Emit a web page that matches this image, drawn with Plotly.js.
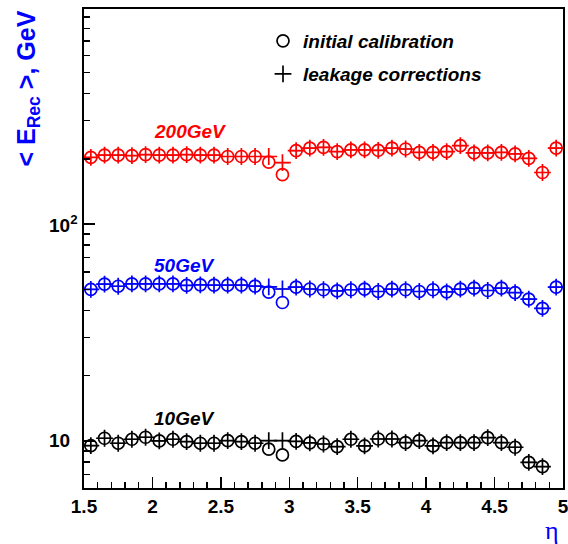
<!DOCTYPE html>
<html>
<head>
<meta charset="utf-8">
<script src="https://cdn.plot.ly/plotly-3.0.1.min.js"></script>
<style>html,body{margin:0;padding:0;background:#fff;}#chart{width:568px;height:544px;}</style>
</head>
<body>
<div id="chart"></div>
<script>
// eta bin centres
var eta = [1.55,1.65,1.75,1.85,1.95,2.05,2.15,2.25,2.35,2.45,2.55,2.65,2.75,2.85,2.95,3.05,3.15,3.25,3.35,3.45,3.55,3.65,3.75,3.85,3.95,4.05,4.15,4.25,4.35,4.45,4.55,4.65,4.75,4.85,4.95];
var eta10 = [1.55,1.65,1.75,1.85,1.95,2.05,2.15,2.25,2.35,2.45,2.55,2.65,2.75,2.85,2.95,3.05,3.15,3.25,3.35,3.45,3.55,3.65,3.75,3.85,3.95,4.05,4.15,4.25,4.35,4.45,4.55,4.65,4.75,4.85];

// 200 GeV
var init200 = [203,208,208,207,209,208,208,209,208,208,205,205,205,193,169,218,224,226,216,220,220,219,224,222,214,214,216,230,213,213,214,211,201,173,224];
var leak200 = [203,208,208,207,209,208,208,209,208,208,205,205,205,205,192,218,224,226,216,220,220,219,224,222,214,214,216,230,213,213,214,211,201,173,224];
// 50 GeV
var init50 = [50.0,52.9,51.7,53.0,53.0,53.0,53.0,52.2,52.5,52.3,52.3,52.3,51.8,48.6,43.5,51.2,50.2,49.8,49.2,49.8,50.1,48.9,50.1,49.8,48.9,49.8,48.7,50.1,50.7,49.4,50.7,48.3,45.1,40.9,51.2];
var leak50 = [50.0,52.9,51.7,53.0,53.0,53.0,53.0,52.2,52.5,52.3,52.3,52.3,51.8,51.3,50.2,51.2,50.2,49.8,49.2,49.8,50.1,48.9,50.1,49.8,48.9,49.8,48.7,50.1,50.7,49.4,50.7,48.3,45.1,40.9,51.2];
// 10 GeV
var init10 = [9.51,10.29,9.76,10.18,10.40,10.0,10.18,9.93,9.76,9.76,10.03,9.93,9.76,9.16,8.62,9.95,9.8,9.68,9.41,10.18,9.48,10.21,10.21,9.82,10.03,9.48,9.82,9.82,9.82,10.36,9.82,9.35,7.97,7.61];
var leak10 = [9.51,10.29,9.76,10.18,10.40,10.0,10.18,9.93,9.76,9.76,10.03,9.93,9.76,10.03,10.03,9.95,9.8,9.68,9.41,10.18,9.48,10.21,10.21,9.82,10.03,9.48,9.82,9.82,9.82,10.36,9.82,9.35,7.97,7.61];

var energyLabels = ["200GeV","50GeV","10GeV"];
var legendNames = ["initial calibration","leakage corrections"];
var yTickVals = [10,100];
var yTickText = ["10","10<sup>2</sup>"];
var yMinor = [7,8,9,20,30,40,50,60,70,80,90,200,300,400,500,600,700,800,900];

var FONT = "Liberation Sans, Arial, sans-serif";
var colors = ["#ff0000","#0000ff","#000000"];

function circ(x,y,c,lbl,leg){
  return {x:x,y:y,type:"scatter",mode:"markers",
    marker:{symbol:"circle-open",size:12,color:c,line:{color:c,width:1.7}},
    showlegend:!!leg,name:leg?legendNames[0]:lbl+" "+legendNames[0],legend:"legend",hoverinfo:"skip"};
}
function plus(x,y,c,lbl,leg){
  return {x:x,y:y,type:"scatter",mode:"markers",
    marker:{symbol:"cross-thin-open",size:12,color:c,line:{color:c,width:1.7}},
    error_x:{type:"constant",value:0.05,width:0,thickness:1,color:"#000000"},
    showlegend:!!leg,name:leg?legendNames[1]:lbl+" "+legendNames[1],legend:"legend2",hoverinfo:"skip"};
}

var data = [
  plus(eta,leak200,colors[0],energyLabels[0]), circ(eta,init200,colors[0],energyLabels[0]),
  plus(eta,leak50,colors[1],energyLabels[1]), circ(eta,init50,colors[1],energyLabels[1]),
  plus(eta10,leak10,colors[2],energyLabels[2],true), circ(eta10,init10,colors[2],energyLabels[2],true)
];

var W=479,H=479,L=84,T=9;
function px(xp){return (xp-L)/W;}
function py(yp){return (T+H-yp)/H;}

var ann = [];
var labY=[131.5,265.5,418.5];
for(var i=0;i<3;i++){
  ann.push({text:energyLabels[i],xref:"x",yref:"paper",x:2.0,y:py(labY[i]),xanchor:"left",yanchor:"middle",showarrow:false,
    font:{family:FONT,size:19,color:colors[i],weight:"bold",style:"italic"}});
}
for(var j=0;j<yTickVals.length;j++){
  ann.push({text:yTickText[j],xref:"paper",yref:"y",x:px(47),y:Math.log10(yTickVals[j]),xanchor:"left",yanchor:"middle",showarrow:false,
    font:{family:FONT,size:19,color:"#000",weight:"bold"}});
}
ann.push({text:"< E<sub>Rec</sub> >, GeV",xref:"paper",yref:"paper",x:px(27),y:py(88.5),textangle:-90,xanchor:"center",yanchor:"middle",showarrow:false,
  font:{family:FONT,size:25,color:"#0000ff",weight:"bold"}});
ann.push({text:"η",xref:"paper",yref:"paper",x:px(561),y:py(530),xanchor:"right",yanchor:"middle",showarrow:false,
  font:{family:"Liberation Serif, serif",size:26,color:"#0000ff"}});

var legFont = {family:FONT,size:19,color:"#000",weight:"bold",style:"italic"};
var layout = {
  width:568,height:544,
  margin:{l:L,r:568-L-W,t:T,b:544-T-H,pad:0},
  paper_bgcolor:"#fff",plot_bgcolor:"#fff",
  font:{family:FONT,color:"#000"},
  xaxis:{range:[1.5,5],tickmode:"linear",tick0:1.5,dtick:0.5,ticks:"inside",ticklen:11,tickwidth:1.5,tickcolor:"#000",
    minor:{tickmode:"linear",tick0:1.5,dtick:0.1,ticks:"inside",ticklen:6,tickwidth:1.5,tickcolor:"#000"},
    showline:true,linewidth:2,linecolor:"#000",mirror:true,showgrid:false,zeroline:false,ticklabeloverflow:"allow",
    tickfont:{family:FONT,size:19,color:"#000",weight:"bold"}},
  yaxis:{type:"log",range:[0.783,2.992],tickmode:"array",tickvals:yTickVals,showticklabels:false,
    ticks:"inside",ticklen:11,tickwidth:1.5,tickcolor:"#000",
    minor:{tickmode:"array",tickvals:yMinor,ticks:"inside",ticklen:6,tickwidth:1.5,tickcolor:"#000"},
    showline:true,linewidth:2,linecolor:"#000",mirror:true,showgrid:false,zeroline:false},
  legend:{x:px(263),y:py(41),xanchor:"left",yanchor:"middle",bgcolor:"rgba(0,0,0,0)",borderwidth:0,font:legFont,itemwidth:30},
  legend2:{x:px(263),y:py(74),xanchor:"left",yanchor:"middle",bgcolor:"rgba(0,0,0,0)",borderwidth:0,font:legFont,itemwidth:30},
  annotations:ann,
  showlegend:true
};
Plotly.newPlot("chart",data,layout,{staticPlot:true,displayModeBar:false});
</script>
</body>
</html>
